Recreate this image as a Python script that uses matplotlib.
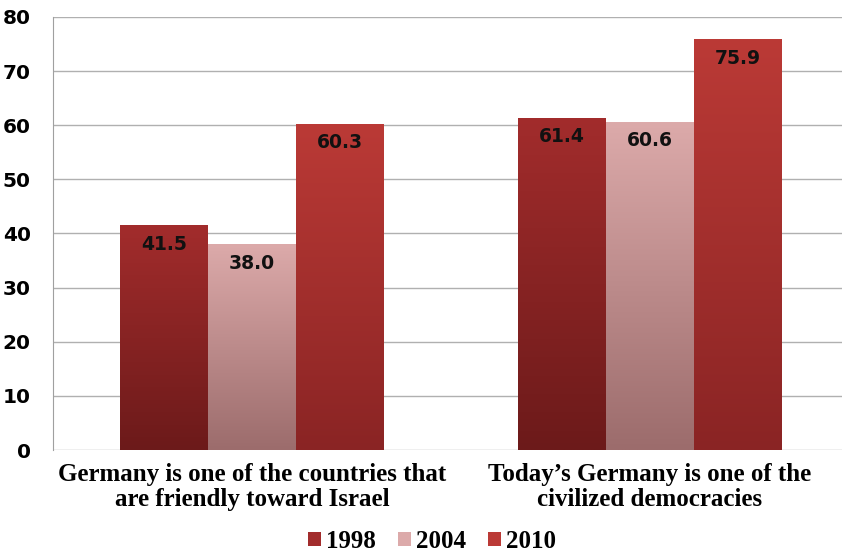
import numpy as np
import matplotlib
matplotlib.use("Agg")
import matplotlib.pyplot as plt
from matplotlib.colors import LinearSegmentedColormap

categories = ["Germany is one of the countries that\nare friendly toward Israel",
              "Today\u2019s Germany is one of the\ncivilized democracies"]
years = ["1998", "2004", "2010"]
values = {"1998": [41.5, 61.4], "2004": [38.0, 60.6], "2010": [60.3, 75.9]}
# (top colour, bottom colour) per series
shades = {"1998": ("#a22c2c", "#6c1a1a"),
          "2004": ("#dcaaaa", "#9c6c6c"),
          "2010": ("#bb3a36", "#8a2424")}

fig = plt.figure(figsize=(8.42, 5.55), dpi=100)
ax = fig.add_axes([53 / 842, 105 / 555, 796 / 842, 433 / 555])

width = 0.221
x = np.arange(len(categories))
grad = np.linspace(0, 1, 256).reshape(-1, 1)

for i, yr in enumerate(years):
    pos = x + (i - 1) * width
    bars = ax.bar(pos, values[yr], width, color="none", zorder=2)
    cmap = LinearSegmentedColormap.from_list(yr, [shades[yr][1], shades[yr][0]])
    for b, v in zip(bars, values[yr]):
        x0 = b.get_x()
        im = ax.imshow(grad, cmap=cmap, aspect="auto", origin="lower",
                       extent=[x0, x0 + width, 0, v], zorder=2)
        im.set_clip_path(b)
        ax.text(x0 + width / 2, v - 3.5, f"{v:.1f}", ha="center", va="center",
                fontsize=13.5, fontweight="bold", color="#111111", zorder=3)
    ax.bar(0, 0, color=shades[yr][0], label=yr)

ax.set_xlim(-0.5, 1.5)
ax.set_ylim(0, 80)
ax.set_yticks(range(0, 81, 10))
ax.yaxis.grid(True, color="#b0b0b0", linewidth=1)
ax.set_axisbelow(True)
for s in ["top", "right", "bottom"]:
    ax.spines[s].set_visible(False)
ax.spines["left"].set_color("#a0a0a0")
ax.tick_params(axis="y", length=0, pad=16, labelsize=14.5)
for t in ax.get_yticklabels():
    t.set_fontweight("bold")
ax.set_xticks(x)
ax.set_xticklabels(categories, fontsize=18, fontweight="bold", family="Liberation Serif",
                   linespacing=1.15)
ax.tick_params(axis="x", length=0, pad=9)

leg = fig.legend(loc="center", bbox_to_anchor=(432 / 842, 1 - 541 / 555), ncol=3,
                 frameon=False, prop={"family": "Liberation Serif", "weight": "bold", "size": 18},
                 handlelength=0.5, handleheight=0.5, handletextpad=0.2, columnspacing=0.9,
                 borderpad=0)

fig.savefig("out.png", dpi=100)
